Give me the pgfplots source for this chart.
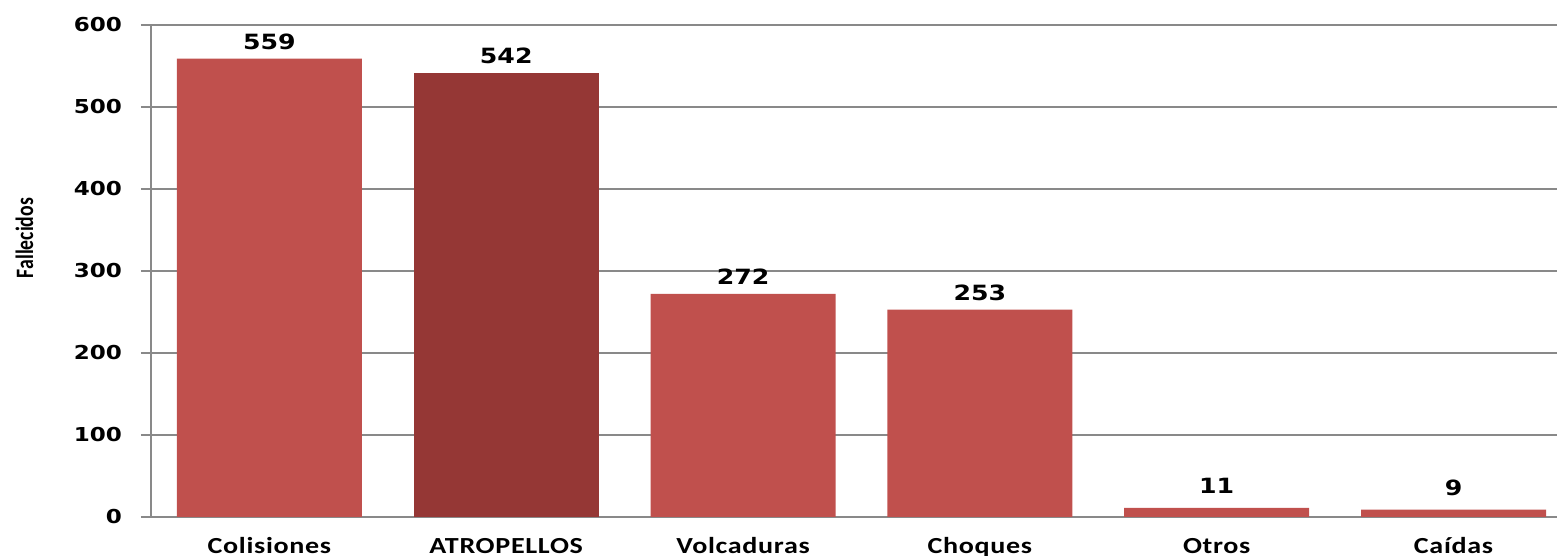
\documentclass[border=0pt]{standalone}
\usepackage{fontspec}
\setmainfont{Carlito}
\newfontfamily\numfont[FakeStretch=1.2]{DejaVu Sans}
\newfontfamily\catfont[FakeStretch=1.22,LetterSpace=3]{Carlito}
\newfontfamily\ylabfont[FakeStretch=0.79]{Carlito}
\usepackage{pgfplots}
\pgfplotsset{compat=1.18}
\definecolor{barred}{HTML}{C0504D}
\definecolor{bardark}{HTML}{953735}
\definecolor{gridgray}{HTML}{898989}
\begin{document}
\begin{tikzpicture}
\begin{axis}[
  scale only axis,
  width=703pt, height=246pt,
  xmin=-0.5, xmax=5.437,
  ymin=0, ymax=600,
  ytick={0,100,...,600},
  xtick={0,1,2,3,4,5},
  xticklabels={Colisiones,ATROPELLOS,Volcaduras,Choques,Otros,Caídas},
  xticklabel style={font=\catfont\fontsize{11.5}{12}\selectfont\bfseries, anchor=base, yshift=-13.5pt, inner sep=0pt},
  yticklabel style={font=\numfont\fontsize{9.6}{10}\selectfont\bfseries, xshift=-6pt},
  /pgf/number format/assume math mode=true,
  axis x line*=bottom,
  axis y line*=left,
  axis line style={gridgray, line width=1pt},
  x axis line style={-}, y axis line style={-},
  major x tick style={draw=none},
  major y tick style={gridgray, line width=1pt},
  tick align=outside,
  major tick length=5pt,
  ymajorgrids,
  grid style={gridgray, line width=1pt},
  ylabel={\ylabfont\fontsize{12.5}{13}\selectfont\bfseries Fallecidos},
  ylabel style={at={(axis description cs:-0.090,0.567)}, anchor=center},
  ybar, bar width=92.5pt, bar shift=0pt,
  nodes near coords,
  every node near coord/.append style={font=\numfont\fontsize{10.5}{11}\selectfont\bfseries, black, yshift=1pt},
  clip=false,
]
\addplot[fill=barred, draw=none] coordinates {(0,559) (2,272) (3,253)};
\addplot[fill=bardark, draw=none] coordinates {(1,542)};
\addplot[fill=barred, draw=none, every node near coord/.append style={yshift=2.5pt}] coordinates {(4,11) (5,9)};
\end{axis}
\pgfresetboundingbox
\path (current axis.south west) ++(-75.5pt,-19.5pt) rectangle ++(778.5pt,278pt);
\end{tikzpicture}
\end{document}
